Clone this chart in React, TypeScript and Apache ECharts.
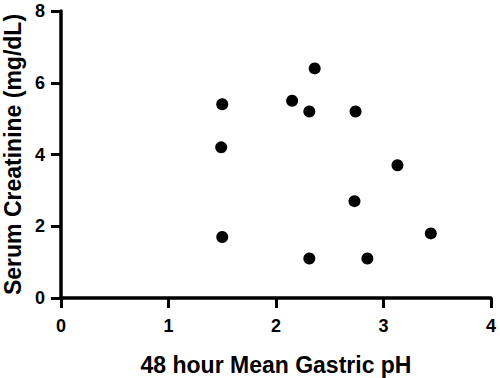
import React, { useEffect, useRef } from "react";
import * as echarts from "echarts";

const xTitle = "48 hour Mean Gastric pH";
const yTitle = "Serum Creatinine (mg/dL)";
const gastricPH = [1.5, 1.49, 1.5, 2.36, 2.15, 2.31, 2.74, 3.13, 2.73, 3.44, 2.31, 2.85];
const creatinine = [5.4, 4.2, 1.7, 6.4, 5.5, 5.2, 5.2, 3.7, 2.7, 1.8, 1.1, 1.1];

export default function App() {
  const ref = useRef<HTMLDivElement>(null);
  useEffect(() => {
    if (!ref.current) return;
    const chart = echarts.init(ref.current, null, { renderer: "svg" });
    const font = "'Liberation Sans', Arial, sans-serif";
    const line = { show: true, onZero: false, lineStyle: { color: "#000", width: 3.5, opacity: 1 } };
    const tick = { show: true, inside: false, length: 10, lineStyle: { color: "#000", width: 3, opacity: 1 } };
    const nameStyle = { fontFamily: font, fontWeight: "bold", fontSize: 23, color: "#000" };
    chart.setOption({
      animation: false,
      backgroundColor: "#fff",
      grid: { left: 61, right: 9, top: 11, bottom: 80, containLabel: false, outerBoundsMode: "none" },
      xAxis: {
        type: "value",
        min: 0,
        max: 4,
        interval: 1,
        name: xTitle,
        nameLocation: "middle",
        nameGap: 55,
        nameTextStyle: nameStyle,
        axisLine: line,
        axisTick: tick,
        splitLine: { show: false },
        axisLabel: { fontFamily: font, fontWeight: "bold", fontSize: 18, color: "#000", margin: 19 },
      },
      yAxis: {
        type: "value",
        min: 0,
        max: 8,
        interval: 2,
        name: yTitle,
        nameLocation: "middle",
        nameGap: 31,
        nameTextStyle: nameStyle,
        axisLine: line,
        axisTick: tick,
        splitLine: { show: false },
        axisLabel: { fontFamily: font, fontWeight: "bold", fontSize: 18, color: "#000", margin: 16 },
      },
      series: [
        {
          type: "scatter",
          symbol: "circle",
          symbolSize: 12,
          itemStyle: { color: "#000", opacity: 1 },
          data: gastricPH.map((x, i) => [x, creatinine[i]]),
        },
      ],
    });
    return () => chart.dispose();
  }, []);
  return <div ref={ref} style={{ position: "fixed", left: 0, top: 0, width: 500, height: 378 }} />;
}
